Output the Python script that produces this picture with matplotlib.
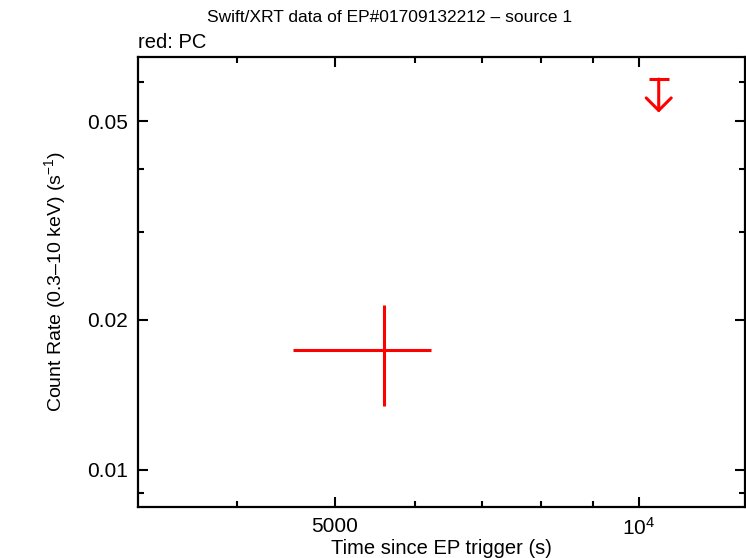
import numpy as np
import matplotlib
matplotlib.use("Agg")
import matplotlib.pyplot as plt
from matplotlib.ticker import FixedLocator, NullFormatter

plt.rcParams['font.family'] = ['Liberation Sans', 'DejaVu Sans']
plt.rcParams['mathtext.fontset'] = 'custom'
plt.rcParams['mathtext.rm'] = 'Liberation Sans'
plt.rcParams['mathtext.it'] = 'Liberation Sans'

# PC detection
t = np.array([5599.])
t_lo = np.array([4547.])
t_hi = np.array([6225.])
rate = np.array([0.01738])
rate_lo = np.array([0.01345])
rate_hi = np.array([0.02142])

# PC upper limit
t_ul = np.array([10459.])
rate_ul = np.array([0.0607])
ul_tip = np.array([0.0520])

xticks = [5000, 10000]
xticklabels = ['5000', '$10^4$']
xminor = [4000, 6000, 7000, 8000, 9000]
yticks = [0.01, 0.02, 0.05]
yticklabels = ['0.01', '0.02', '0.05']
yminor = [0.009, 0.03, 0.04, 0.06]

fig = plt.figure(figsize=(7.46, 5.58), dpi=100)
ax = fig.add_axes([138/746, 51/558, 607/746, 450/558])
ax.set_xscale('log')
ax.set_yscale('log')
ax.set_xlim(3195, 12730)
ax.set_ylim(0.00843, 0.0672)

red = '#ff0000'
ax.errorbar(t, rate, xerr=[t - t_lo, t_hi - t], yerr=[rate - rate_lo, rate_hi - rate],
            fmt='none', ecolor=red, elinewidth=2.2, capsize=0)

ax.plot(t_ul, rate_ul, marker='_', markersize=15, mew=2.2, color=red, ls='none')
for xx, y0, y1 in zip(t_ul, rate_ul, ul_tip):
    ax.annotate('', xy=(xx, y1), xytext=(xx, y0),
                arrowprops=dict(arrowstyle='->,head_length=0.45,head_width=0.45',
                                color=red, lw=2.2, mutation_scale=20,
                                shrinkA=0, shrinkB=0))

ax.xaxis.set_major_locator(FixedLocator(xticks))
ax.set_xticklabels(xticklabels)
ax.xaxis.set_minor_locator(FixedLocator(xminor))
ax.xaxis.set_minor_formatter(NullFormatter())
ax.yaxis.set_major_locator(FixedLocator(yticks))
ax.set_yticklabels(yticklabels)
ax.yaxis.set_minor_locator(FixedLocator(yminor))
ax.yaxis.set_minor_formatter(NullFormatter())

ax.tick_params(which='both', direction='in', top=True, right=True, width=1.5,
               labelsize=15, pad=7)
ax.tick_params(which='major', length=7)
ax.tick_params(which='minor', length=4.5)
for s in ax.spines.values():
    s.set_linewidth(1.6)

ax.set_xlabel('Time since EP trigger (s)', fontsize=14.5, labelpad=0)
ax.set_ylabel('Count Rate (0.3\u201310 keV) (s$^{-1}$)', fontsize=14, labelpad=14)

fig.text(390/746, 1 - 18/558, 'Swift/XRT data of EP#01709132212 \u2013 source 1',
         ha='center', va='center', fontsize=12.5)
fig.text(138/746, 1 - 42/558, 'red: PC', ha='left', va='center', fontsize=14.5)

fig.savefig('out.png', dpi=100)
